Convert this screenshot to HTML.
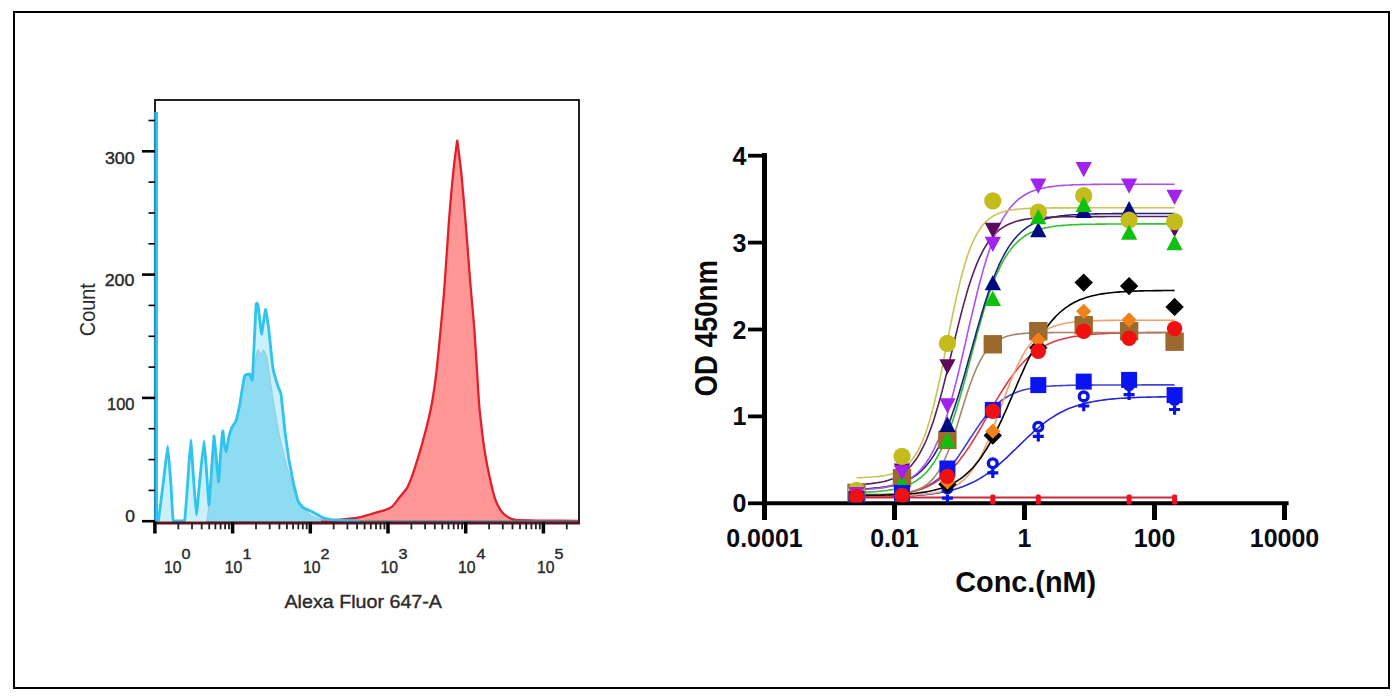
<!DOCTYPE html>
<html><head><meta charset="utf-8"><style>
html,body{margin:0;padding:0;background:#fff;width:1400px;height:698px;overflow:hidden}
svg{display:block;font-family:"Liberation Sans",sans-serif}
</style></head><body>
<svg width="1400" height="698" viewBox="0 0 1400 698">
<rect x="14" y="12" width="1375" height="676" fill="none" stroke="#000" stroke-width="2"/>
<polyline points="155,522.5 155,100 579,100 579,523" fill="none" stroke="#222" stroke-width="2"/>
<path d="M206.7 521.5 C206.9 520.4 208.7 508.4 209.0 505.0 C209.3 501.6 211.2 474.6 211.5 470.0 C211.8 465.4 213.7 436.7 214.0 436.0 C214.3 435.3 216.2 456.9 216.5 460.0 C216.8 463.1 218.4 482.3 218.7 482.0 C219.0 481.7 220.2 458.4 220.5 455.0 C220.8 451.6 222.5 431.7 222.8 431.0 C223.1 430.3 224.3 443.6 224.5 445.0 C224.7 446.4 226.0 452.2 226.3 451.6 C226.6 451.0 228.6 437.6 229.0 436.0 C229.4 434.4 231.3 428.5 231.8 427.5 C232.3 426.5 235.5 422.3 236.0 420.7 C236.5 419.1 239.4 406.0 240.0 403.0 C240.6 400.0 243.9 377.9 244.5 376.0 C245.1 374.1 249.2 373.8 249.7 374.0 C250.2 374.2 252.0 380.3 252.4 379.5 C252.8 378.7 254.6 364.0 255.0 362.0 C255.4 360.0 257.6 350.5 258.0 350.0 C258.4 349.5 260.6 355.0 261.0 355.0 C261.4 355.0 263.0 349.8 263.4 350.0 C263.8 350.2 266.4 355.1 267.0 358.0 C267.6 360.9 271.2 387.9 272.0 393.0 C272.8 398.1 278.0 428.9 279.0 434.0 C280.0 439.1 286.2 464.6 287.5 469.0 C288.8 473.4 296.2 496.9 297.8 500.0 C299.4 503.1 309.7 514.7 311.5 516.0 C313.3 517.3 323.2 519.7 325.0 520.0 C326.8 520.3 337.1 520.9 338.0 521.0 C338.9 521.1 338.0 521.9 338.0 522.0 Z" fill="#86d6ea" stroke="#98b8c4" stroke-width="1.3"/>
<path d="M322.0 520.8 C324.7 520.6 337.9 519.8 342.6 519.4 C347.3 519.0 353.8 518.4 357.6 517.7 C361.4 517.0 367.5 515.0 371.1 514.0 C374.7 513.0 381.9 511.2 384.7 510.2 C387.5 509.2 390.2 508.3 392.2 506.5 C394.2 504.7 397.7 499.5 399.7 497.0 C401.7 494.5 405.6 490.4 407.2 487.7 C408.8 485.0 410.5 480.3 411.7 477.1 C412.9 473.9 415.0 467.4 416.2 463.6 C417.4 459.8 419.6 452.8 420.8 448.6 C422.0 444.4 424.2 436.1 425.3 432.0 C426.4 427.9 427.8 422.3 428.8 418.0 C429.8 413.7 431.5 405.9 432.5 400.0 C433.5 394.1 435.1 383.3 436.2 374.0 C437.3 364.7 439.5 341.5 440.6 330.0 C441.7 318.5 443.3 301.7 444.4 287.6 C445.5 273.5 447.6 239.6 448.7 224.6 C449.8 209.6 451.9 186.3 453.0 175.0 C454.1 163.7 456.6 144.7 457.2 140.0 L457.2 140.0 C457.8 144.7 460.4 163.7 461.5 175.0 C462.6 186.3 464.7 210.7 465.8 224.6 C466.9 238.5 468.9 264.9 470.0 279.0 C471.1 293.1 473.2 313.9 474.4 330.0 C475.6 346.1 477.9 387.1 478.8 400.0 C479.7 412.9 480.7 419.7 481.5 426.9 C482.3 434.1 484.0 447.1 485.1 453.8 C486.2 460.5 488.3 471.0 489.6 477.0 C490.9 483.0 493.5 494.1 495.0 498.6 C496.5 503.1 499.4 508.6 501.2 511.1 C503.0 513.6 506.5 516.2 508.4 517.4 C510.3 518.6 511.4 519.6 515.6 520.0 C519.8 520.4 531.8 520.5 540.0 520.6 C548.2 520.7 572.1 520.8 577.0 520.8 L577 522 L322 522 Z" fill="#ff9696" stroke="#e0202a" stroke-width="2.3" stroke-linejoin="miter"/>
<path d="M158.4 521.0 C158.6 519.2 162.5 488.8 163.0 485.0 C163.5 481.2 167.3 446.0 167.7 446.0 C168.1 446.0 170.7 481.2 171.0 485.0 C171.3 488.8 172.6 519.2 173.3 521.0 C174.0 521.0 183.8 521.0 184.5 521.0 C185.2 518.9 187.7 482.1 188.0 478.0 C188.3 473.9 190.5 440.0 190.8 440.0 C191.1 440.0 193.2 474.2 193.5 478.0 C193.8 481.8 196.1 515.0 196.4 515.0 C196.7 515.0 199.6 481.7 200.0 478.0 C200.4 474.3 203.7 441.0 204.0 441.0 C204.3 441.0 206.8 474.8 207.0 478.0 C207.2 481.2 208.8 505.4 209.0 505.0 C209.2 504.6 211.2 473.4 211.5 470.0 C211.8 466.6 213.8 436.5 214.0 436.0 C214.2 435.5 216.3 457.7 216.5 460.0 C216.7 462.3 218.5 482.2 218.7 482.0 C218.9 481.8 220.3 457.6 220.5 455.0 C220.7 452.4 222.6 431.5 222.8 431.0 C223.0 430.5 224.3 444.0 224.5 445.0 C224.7 446.0 226.1 452.1 226.3 451.6 C226.5 451.2 228.7 437.2 229.0 436.0 C229.3 434.8 231.5 428.3 231.8 427.5 C232.2 426.7 235.6 421.9 236.0 420.7 C236.4 419.5 239.6 405.2 240.0 403.0 C240.4 400.8 244.0 377.4 244.5 376.0 C245.0 374.6 249.3 373.8 249.7 374.0 C250.1 374.2 252.1 382.9 252.4 379.5 C252.7 376.1 255.7 309.2 256.0 305.5 C256.3 301.8 257.7 303.6 258.0 305.0 C258.3 306.4 261.1 333.8 261.5 334.0 C261.9 334.2 265.1 309.9 265.5 309.5 C265.9 309.1 268.1 324.0 268.5 327.0 C268.9 330.0 272.5 366.0 273.0 369.0 C273.5 372.0 277.6 385.1 278.0 386.4 C278.4 387.6 280.6 391.7 281.0 394.0 C281.4 396.3 284.6 428.7 285.0 432.0 C285.4 435.3 288.6 457.6 289.0 460.0 C289.4 462.4 292.6 478.9 293.0 481.0 C293.4 483.1 297.5 499.7 298.0 501.0 C298.5 502.3 302.3 507.0 303.0 507.5 C303.7 508.0 311.1 511.2 312.0 511.7 C312.9 512.2 320.6 516.6 321.5 517.0 C322.4 517.4 329.9 519.5 331.0 519.7 C332.1 519.9 342.6 520.4 344.0 520.5 C345.4 520.6 359.2 521.0 360.0 521.0" fill="rgba(150,225,248,0.5)" stroke="#2ec4ee" stroke-width="2.8" stroke-linejoin="round"/>
<line x1="360" y1="521.2" x2="578" y2="521.2" stroke="#3a9ab0" stroke-width="1.6"/>
<line x1="154.6" y1="112" x2="154.6" y2="522" stroke="#1e88b0" stroke-width="1.4"/>
<line x1="156.6" y1="112" x2="156.6" y2="522" stroke="#30c2f0" stroke-width="2.8"/>
<line x1="154" y1="523" x2="580" y2="523" stroke="#5a1422" stroke-width="3"/>
<line x1="142" y1="521.2" x2="155" y2="521.2" stroke="#000" stroke-width="2.6"/>
<line x1="142" y1="397.9" x2="155" y2="397.9" stroke="#000" stroke-width="2.6"/>
<line x1="142" y1="274.6" x2="155" y2="274.6" stroke="#000" stroke-width="2.6"/>
<line x1="142" y1="151.3" x2="155" y2="151.3" stroke="#000" stroke-width="2.6"/>
<line x1="148.5" y1="490.4" x2="155" y2="490.4" stroke="#000" stroke-width="1.6"/>
<line x1="148.5" y1="459.6" x2="155" y2="459.6" stroke="#000" stroke-width="1.6"/>
<line x1="148.5" y1="428.7" x2="155" y2="428.7" stroke="#000" stroke-width="1.6"/>
<line x1="148.5" y1="367.1" x2="155" y2="367.1" stroke="#000" stroke-width="1.6"/>
<line x1="148.5" y1="336.3" x2="155" y2="336.3" stroke="#000" stroke-width="1.6"/>
<line x1="148.5" y1="305.4" x2="155" y2="305.4" stroke="#000" stroke-width="1.6"/>
<line x1="148.5" y1="243.8" x2="155" y2="243.8" stroke="#000" stroke-width="1.6"/>
<line x1="148.5" y1="213.0" x2="155" y2="213.0" stroke="#000" stroke-width="1.6"/>
<line x1="148.5" y1="182.1" x2="155" y2="182.1" stroke="#000" stroke-width="1.6"/>
<line x1="148.5" y1="120.5" x2="155" y2="120.5" stroke="#000" stroke-width="1.6"/>
<line x1="154.9" y1="522" x2="154.9" y2="533.5" stroke="#000" stroke-width="3.5"/>
<line x1="232.6" y1="522" x2="232.6" y2="533.5" stroke="#000" stroke-width="3.5"/>
<line x1="310.3" y1="522" x2="310.3" y2="533.5" stroke="#000" stroke-width="3.5"/>
<line x1="388.0" y1="522" x2="388.0" y2="533.5" stroke="#000" stroke-width="3.5"/>
<line x1="465.7" y1="522" x2="465.7" y2="533.5" stroke="#000" stroke-width="3.5"/>
<line x1="543.4" y1="522" x2="543.4" y2="533.5" stroke="#000" stroke-width="3.5"/>
<line x1="178.3" y1="522" x2="178.3" y2="529.3" stroke="#222" stroke-width="1.8"/>
<line x1="192.0" y1="522" x2="192.0" y2="529.3" stroke="#222" stroke-width="1.8"/>
<line x1="201.7" y1="522" x2="201.7" y2="529.3" stroke="#222" stroke-width="1.8"/>
<line x1="209.2" y1="522" x2="209.2" y2="529.3" stroke="#222" stroke-width="1.8"/>
<line x1="215.4" y1="522" x2="215.4" y2="529.3" stroke="#222" stroke-width="1.8"/>
<line x1="220.6" y1="522" x2="220.6" y2="529.3" stroke="#222" stroke-width="1.8"/>
<line x1="225.1" y1="522" x2="225.1" y2="529.3" stroke="#222" stroke-width="1.8"/>
<line x1="229.0" y1="522" x2="229.0" y2="529.3" stroke="#222" stroke-width="1.8"/>
<line x1="256.0" y1="522" x2="256.0" y2="529.3" stroke="#222" stroke-width="1.8"/>
<line x1="269.7" y1="522" x2="269.7" y2="529.3" stroke="#222" stroke-width="1.8"/>
<line x1="279.4" y1="522" x2="279.4" y2="529.3" stroke="#222" stroke-width="1.8"/>
<line x1="286.9" y1="522" x2="286.9" y2="529.3" stroke="#222" stroke-width="1.8"/>
<line x1="293.1" y1="522" x2="293.1" y2="529.3" stroke="#222" stroke-width="1.8"/>
<line x1="298.3" y1="522" x2="298.3" y2="529.3" stroke="#222" stroke-width="1.8"/>
<line x1="302.8" y1="522" x2="302.8" y2="529.3" stroke="#222" stroke-width="1.8"/>
<line x1="306.7" y1="522" x2="306.7" y2="529.3" stroke="#222" stroke-width="1.8"/>
<line x1="333.7" y1="522" x2="333.7" y2="529.3" stroke="#222" stroke-width="1.8"/>
<line x1="347.4" y1="522" x2="347.4" y2="529.3" stroke="#222" stroke-width="1.8"/>
<line x1="357.1" y1="522" x2="357.1" y2="529.3" stroke="#222" stroke-width="1.8"/>
<line x1="364.6" y1="522" x2="364.6" y2="529.3" stroke="#222" stroke-width="1.8"/>
<line x1="370.8" y1="522" x2="370.8" y2="529.3" stroke="#222" stroke-width="1.8"/>
<line x1="376.0" y1="522" x2="376.0" y2="529.3" stroke="#222" stroke-width="1.8"/>
<line x1="380.5" y1="522" x2="380.5" y2="529.3" stroke="#222" stroke-width="1.8"/>
<line x1="384.4" y1="522" x2="384.4" y2="529.3" stroke="#222" stroke-width="1.8"/>
<line x1="411.4" y1="522" x2="411.4" y2="529.3" stroke="#222" stroke-width="1.8"/>
<line x1="425.1" y1="522" x2="425.1" y2="529.3" stroke="#222" stroke-width="1.8"/>
<line x1="434.8" y1="522" x2="434.8" y2="529.3" stroke="#222" stroke-width="1.8"/>
<line x1="442.3" y1="522" x2="442.3" y2="529.3" stroke="#222" stroke-width="1.8"/>
<line x1="448.5" y1="522" x2="448.5" y2="529.3" stroke="#222" stroke-width="1.8"/>
<line x1="453.7" y1="522" x2="453.7" y2="529.3" stroke="#222" stroke-width="1.8"/>
<line x1="458.2" y1="522" x2="458.2" y2="529.3" stroke="#222" stroke-width="1.8"/>
<line x1="462.1" y1="522" x2="462.1" y2="529.3" stroke="#222" stroke-width="1.8"/>
<line x1="489.1" y1="522" x2="489.1" y2="529.3" stroke="#222" stroke-width="1.8"/>
<line x1="502.8" y1="522" x2="502.8" y2="529.3" stroke="#222" stroke-width="1.8"/>
<line x1="512.5" y1="522" x2="512.5" y2="529.3" stroke="#222" stroke-width="1.8"/>
<line x1="520.0" y1="522" x2="520.0" y2="529.3" stroke="#222" stroke-width="1.8"/>
<line x1="526.2" y1="522" x2="526.2" y2="529.3" stroke="#222" stroke-width="1.8"/>
<line x1="531.4" y1="522" x2="531.4" y2="529.3" stroke="#222" stroke-width="1.8"/>
<line x1="535.9" y1="522" x2="535.9" y2="529.3" stroke="#222" stroke-width="1.8"/>
<line x1="539.8" y1="522" x2="539.8" y2="529.3" stroke="#222" stroke-width="1.8"/>
<line x1="566.8" y1="522" x2="566.8" y2="529.3" stroke="#222" stroke-width="1.8"/>
<text x="104.9" y="163.6" font-size="16.0" font-weight="normal" fill="#2a2a2a" stroke="#2a2a2a" stroke-width="0.4" text-anchor="start" textLength="29.7" lengthAdjust="spacingAndGlyphs" >300</text>
<text x="104.7" y="285.7" font-size="16.0" font-weight="normal" fill="#2a2a2a" stroke="#2a2a2a" stroke-width="0.4" text-anchor="start" textLength="29.8" lengthAdjust="spacingAndGlyphs" >200</text>
<text x="107.0" y="410.2" font-size="16.0" font-weight="normal" fill="#2a2a2a" stroke="#2a2a2a" stroke-width="0.4" text-anchor="start" textLength="27.5" lengthAdjust="spacingAndGlyphs" >100</text>
<text x="125.2" y="521.6" font-size="16.0" font-weight="normal" fill="#2a2a2a" stroke="#2a2a2a" stroke-width="0.4" text-anchor="start" textLength="9.7" lengthAdjust="spacingAndGlyphs" >0</text>
<text transform="translate(94.8,336.2) rotate(-90)" font-size="21.5" fill="#2a2a2a" textLength="53" lengthAdjust="spacingAndGlyphs">Count</text>
<text x="164.0" y="573.0" font-size="16.6" font-weight="normal" fill="#2a2a2a" stroke="#2a2a2a" stroke-width="0.4" text-anchor="start" textLength="17.5" lengthAdjust="spacingAndGlyphs" >10</text>
<text x="181.5" y="559.0" font-size="14.6" font-weight="normal" fill="#2a2a2a" stroke="#2a2a2a" stroke-width="0.4" text-anchor="start" textLength="9.0" lengthAdjust="spacingAndGlyphs" >0</text>
<text x="224.7" y="573.0" font-size="16.6" font-weight="normal" fill="#2a2a2a" stroke="#2a2a2a" stroke-width="0.4" text-anchor="start" textLength="17.5" lengthAdjust="spacingAndGlyphs" >10</text>
<text x="242.5" y="559.0" font-size="14.6" font-weight="normal" fill="#2a2a2a" stroke="#2a2a2a" stroke-width="0.4" text-anchor="start" textLength="9.0" lengthAdjust="spacingAndGlyphs" >1</text>
<text x="303.0" y="573.0" font-size="16.6" font-weight="normal" fill="#2a2a2a" stroke="#2a2a2a" stroke-width="0.4" text-anchor="start" textLength="17.5" lengthAdjust="spacingAndGlyphs" >10</text>
<text x="320.5" y="559.0" font-size="14.6" font-weight="normal" fill="#2a2a2a" stroke="#2a2a2a" stroke-width="0.4" text-anchor="start" textLength="9.0" lengthAdjust="spacingAndGlyphs" >2</text>
<text x="380.5" y="573.0" font-size="16.6" font-weight="normal" fill="#2a2a2a" stroke="#2a2a2a" stroke-width="0.4" text-anchor="start" textLength="17.5" lengthAdjust="spacingAndGlyphs" >10</text>
<text x="398.5" y="559.0" font-size="14.6" font-weight="normal" fill="#2a2a2a" stroke="#2a2a2a" stroke-width="0.4" text-anchor="start" textLength="9.0" lengthAdjust="spacingAndGlyphs" >3</text>
<text x="458.0" y="573.0" font-size="16.6" font-weight="normal" fill="#2a2a2a" stroke="#2a2a2a" stroke-width="0.4" text-anchor="start" textLength="17.5" lengthAdjust="spacingAndGlyphs" >10</text>
<text x="476.5" y="559.0" font-size="14.6" font-weight="normal" fill="#2a2a2a" stroke="#2a2a2a" stroke-width="0.4" text-anchor="start" textLength="9.0" lengthAdjust="spacingAndGlyphs" >4</text>
<text x="537.0" y="573.0" font-size="16.6" font-weight="normal" fill="#2a2a2a" stroke="#2a2a2a" stroke-width="0.4" text-anchor="start" textLength="17.5" lengthAdjust="spacingAndGlyphs" >10</text>
<text x="554.5" y="559.0" font-size="14.6" font-weight="normal" fill="#2a2a2a" stroke="#2a2a2a" stroke-width="0.4" text-anchor="start" textLength="9.0" lengthAdjust="spacingAndGlyphs" >5</text>
<text x="284.5" y="608.2" font-size="18.8" font-weight="normal" fill="#2a2a2a" stroke="#2a2a2a" stroke-width="0.4" text-anchor="start" textLength="157.5" lengthAdjust="spacingAndGlyphs" >Alexa Fluor 647-A</text>
<line x1="764.5" y1="153" x2="764.5" y2="520" stroke="#000" stroke-width="5"/>
<line x1="762" y1="503.3" x2="1288.6" y2="503.3" stroke="#000" stroke-width="4"/>
<line x1="748" y1="503.3" x2="764" y2="503.3" stroke="#000" stroke-width="3.8"/>
<line x1="748" y1="416.4" x2="764" y2="416.4" stroke="#000" stroke-width="3.8"/>
<line x1="748" y1="329.5" x2="764" y2="329.5" stroke="#000" stroke-width="3.8"/>
<line x1="748" y1="242.6" x2="764" y2="242.6" stroke="#000" stroke-width="3.8"/>
<line x1="748" y1="155.7" x2="764" y2="155.7" stroke="#000" stroke-width="3.8"/>
<line x1="764.5" y1="503" x2="764.5" y2="520" stroke="#000" stroke-width="5"/>
<line x1="894.5" y1="503" x2="894.5" y2="520" stroke="#000" stroke-width="5"/>
<line x1="1024.5" y1="503" x2="1024.5" y2="520" stroke="#000" stroke-width="5"/>
<line x1="1154.5" y1="503" x2="1154.5" y2="520" stroke="#000" stroke-width="5"/>
<line x1="1284.5" y1="503" x2="1284.5" y2="520" stroke="#000" stroke-width="5"/>
<polyline points="856.5,497.1 858.8,497.1 861.1,497.1 863.4,497.1 865.6,497.0 867.9,497.0 870.2,497.0 872.4,497.0 874.7,496.9 877.0,496.9 879.3,496.8 881.5,496.8 883.8,496.8 886.1,496.7 888.3,496.7 890.6,496.6 892.9,496.5 895.2,496.5 897.4,496.4 899.7,496.3 902.0,496.2 904.2,496.1 906.5,496.0 908.8,495.9 911.1,495.7 913.3,495.6 915.6,495.4 917.9,495.3 920.1,495.1 922.4,494.9 924.7,494.7 927.0,494.4 929.2,494.2 931.5,493.9 933.8,493.6 936.0,493.3 938.3,492.9 940.6,492.5 942.9,492.1 945.1,491.7 947.4,491.2 949.7,490.6 951.9,490.1 954.2,489.4 956.5,488.8 958.8,488.1 961.0,487.3 963.3,486.5 965.6,485.6 967.8,484.6 970.1,483.6 972.4,482.5 974.7,481.4 976.9,480.2 979.2,478.9 981.5,477.5 983.7,476.1 986.0,474.6 988.3,473.0 990.6,471.3 992.8,469.6 995.1,467.7 997.4,465.9 999.6,463.9 1001.9,461.9 1004.2,459.9 1006.5,457.8 1008.7,455.6 1011.0,453.4 1013.3,451.2 1015.6,449.0 1017.8,446.8 1020.1,444.6 1022.4,442.4 1024.6,440.2 1026.9,438.0 1029.2,435.8 1031.5,433.8 1033.7,431.7 1036.0,429.7 1038.3,427.8 1040.5,425.9 1042.8,424.1 1045.1,422.4 1047.4,420.7 1049.6,419.1 1051.9,417.6 1054.2,416.2 1056.4,414.8 1058.7,413.5 1061.0,412.3 1063.3,411.2 1065.5,410.1 1067.8,409.1 1070.1,408.1 1072.3,407.3 1074.6,406.4 1076.9,405.7 1079.2,405.0 1081.4,404.3 1083.7,403.7 1086.0,403.1 1088.2,402.6 1090.5,402.1 1092.8,401.7 1095.1,401.2 1097.3,400.9 1099.6,400.5 1101.9,400.2 1104.1,399.9 1106.4,399.6 1108.7,399.3 1111.0,399.1 1113.2,398.9 1115.5,398.7 1117.8,398.5 1120.0,398.3 1122.3,398.2 1124.6,398.1 1126.9,397.9 1129.1,397.8 1131.4,397.7 1133.7,397.6 1135.9,397.5 1138.2,397.4 1140.5,397.3 1142.8,397.3 1145.0,397.2 1147.3,397.1 1149.6,397.1 1151.9,397.0 1154.1,397.0 1156.4,397.0 1158.7,396.9 1160.9,396.9 1163.2,396.9 1165.5,396.8 1167.8,396.8 1170.0,396.8 1172.3,396.7 1174.6,396.7" fill="none" stroke="#2828d0" stroke-width="1.6"/>
<polyline points="856.5,495.9 858.8,495.8 861.1,495.8 863.4,495.8 865.6,495.7 867.9,495.7 870.2,495.6 872.4,495.6 874.7,495.5 877.0,495.4 879.3,495.3 881.5,495.2 883.8,495.1 886.1,495.0 888.3,494.8 890.6,494.7 892.9,494.5 895.2,494.3 897.4,494.0 899.7,493.7 902.0,493.4 904.2,493.1 906.5,492.7 908.8,492.3 911.1,491.8 913.3,491.2 915.6,490.6 917.9,489.9 920.1,489.1 922.4,488.2 924.7,487.3 927.0,486.2 929.2,485.0 931.5,483.7 933.8,482.2 936.0,480.6 938.3,478.9 940.6,476.9 942.9,474.9 945.1,472.6 947.4,470.2 949.7,467.6 951.9,464.8 954.2,461.9 956.5,458.9 958.8,455.7 961.0,452.4 963.3,449.0 965.6,445.5 967.8,442.0 970.1,438.5 972.4,435.1 974.7,431.6 976.9,428.2 979.2,424.9 981.5,421.8 983.7,418.7 986.0,415.8 988.3,413.1 990.6,410.5 992.8,408.1 995.1,405.9 997.4,403.8 999.6,401.9 1001.9,400.2 1004.2,398.6 1006.5,397.2 1008.7,395.9 1011.0,394.7 1013.3,393.6 1015.6,392.7 1017.8,391.8 1020.1,391.0 1022.4,390.3 1024.6,389.7 1026.9,389.2 1029.2,388.7 1031.5,388.3 1033.7,387.9 1036.0,387.5 1038.3,387.2 1040.5,387.0 1042.8,386.7 1045.1,386.5 1047.4,386.3 1049.6,386.2 1051.9,386.0 1054.2,385.9 1056.4,385.8 1058.7,385.7 1061.0,385.6 1063.3,385.5 1065.5,385.5 1067.8,385.4 1070.1,385.3 1072.3,385.3 1074.6,385.3 1076.9,385.2 1079.2,385.2 1081.4,385.2 1083.7,385.1 1086.0,385.1 1088.2,385.1 1090.5,385.1 1092.8,385.1 1095.1,385.0 1097.3,385.0 1099.6,385.0 1101.9,385.0 1104.1,385.0 1106.4,385.0 1108.7,385.0 1111.0,385.0 1113.2,385.0 1115.5,385.0 1117.8,385.0 1120.0,385.0 1122.3,385.0 1124.6,385.0 1126.9,385.0 1129.1,385.0 1131.4,385.0 1133.7,385.0 1135.9,385.0 1138.2,385.0 1140.5,385.0 1142.8,384.9 1145.0,384.9 1147.3,384.9 1149.6,384.9 1151.9,384.9 1154.1,384.9 1156.4,384.9 1158.7,384.9 1160.9,384.9 1163.2,384.9 1165.5,384.9 1167.8,384.9 1170.0,384.9 1172.3,384.9 1174.6,384.9" fill="none" stroke="#4040e0" stroke-width="1.6"/>
<polyline points="856.5,497.6 858.8,497.5 861.1,497.4 863.4,497.4 865.6,497.3 867.9,497.2 870.2,497.1 872.4,497.0 874.7,496.9 877.0,496.7 879.3,496.6 881.5,496.4 883.8,496.3 886.1,496.1 888.3,495.9 890.6,495.6 892.9,495.4 895.2,495.1 897.4,494.8 899.7,494.5 902.0,494.1 904.2,493.7 906.5,493.2 908.8,492.7 911.1,492.2 913.3,491.6 915.6,491.0 917.9,490.3 920.1,489.5 922.4,488.7 924.7,487.8 927.0,486.8 929.2,485.7 931.5,484.6 933.8,483.3 936.0,481.9 938.3,480.4 940.6,478.8 942.9,477.1 945.1,475.3 947.4,473.3 949.7,471.1 951.9,468.9 954.2,466.4 956.5,463.9 958.8,461.2 961.0,458.3 963.3,455.3 965.6,452.1 967.8,448.8 970.1,445.4 972.4,441.8 974.7,438.2 976.9,434.4 979.2,430.5 981.5,426.6 983.7,422.6 986.0,418.6 988.3,414.6 990.6,410.6 992.8,406.6 995.1,402.6 997.4,398.7 999.6,394.9 1001.9,391.2 1004.2,387.5 1006.5,384.0 1008.7,380.6 1011.0,377.4 1013.3,374.3 1015.6,371.3 1017.8,368.5 1020.1,365.8 1022.4,363.3 1024.6,360.9 1026.9,358.7 1029.2,356.6 1031.5,354.7 1033.7,352.9 1036.0,351.2 1038.3,349.7 1040.5,348.2 1042.8,346.9 1045.1,345.6 1047.4,344.5 1049.6,343.5 1051.9,342.5 1054.2,341.6 1056.4,340.8 1058.7,340.1 1061.0,339.4 1063.3,338.8 1065.5,338.2 1067.8,337.7 1070.1,337.2 1072.3,336.8 1074.6,336.4 1076.9,336.1 1079.2,335.7 1081.4,335.4 1083.7,335.2 1086.0,334.9 1088.2,334.7 1090.5,334.5 1092.8,334.3 1095.1,334.1 1097.3,334.0 1099.6,333.8 1101.9,333.7 1104.1,333.6 1106.4,333.5 1108.7,333.4 1111.0,333.3 1113.2,333.2 1115.5,333.2 1117.8,333.1 1120.0,333.0 1122.3,333.0 1124.6,332.9 1126.9,332.9 1129.1,332.8 1131.4,332.8 1133.7,332.8 1135.9,332.7 1138.2,332.7 1140.5,332.7 1142.8,332.7 1145.0,332.7 1147.3,332.6 1149.6,332.6 1151.9,332.6 1154.1,332.6 1156.4,332.6 1158.7,332.6 1160.9,332.6 1163.2,332.5 1165.5,332.5 1167.8,332.5 1170.0,332.5 1172.3,332.5 1174.6,332.5" fill="none" stroke="#e03848" stroke-width="1.6"/>
<polyline points="856.5,494.5 858.8,494.5 861.1,494.5 863.4,494.5 865.6,494.4 867.9,494.4 870.2,494.4 872.4,494.4 874.7,494.4 877.0,494.3 879.3,494.3 881.5,494.2 883.8,494.2 886.1,494.1 888.3,494.0 890.6,493.9 892.9,493.8 895.2,493.7 897.4,493.5 899.7,493.3 902.0,493.1 904.2,492.8 906.5,492.5 908.8,492.1 911.1,491.6 913.3,491.0 915.6,490.3 917.9,489.5 920.1,488.5 922.4,487.4 924.7,486.0 927.0,484.4 929.2,482.6 931.5,480.4 933.8,477.9 936.0,474.9 938.3,471.6 940.6,467.7 942.9,463.4 945.1,458.6 947.4,453.2 949.7,447.4 951.9,441.1 954.2,434.3 956.5,427.3 958.8,420.0 961.0,412.7 963.3,405.3 965.6,398.1 967.8,391.1 970.1,384.5 972.4,378.3 974.7,372.5 976.9,367.3 979.2,362.6 981.5,358.3 983.7,354.6 986.0,351.4 988.3,348.5 990.6,346.1 992.8,344.0 995.1,342.2 997.4,340.6 999.6,339.3 1001.9,338.2 1004.2,337.3 1006.5,336.5 1008.7,335.8 1011.0,335.3 1013.3,334.8 1015.6,334.4 1017.8,334.1 1020.1,333.8 1022.4,333.6 1024.6,333.4 1026.9,333.3 1029.2,333.1 1031.5,333.0 1033.7,332.9 1036.0,332.8 1038.3,332.8 1040.5,332.7 1042.8,332.7 1045.1,332.6 1047.4,332.6 1049.6,332.6 1051.9,332.6 1054.2,332.5 1056.4,332.5 1058.7,332.5 1061.0,332.5 1063.3,332.5 1065.5,332.5 1067.8,332.5 1070.1,332.5 1072.3,332.5 1074.6,332.5 1076.9,332.5 1079.2,332.5 1081.4,332.5 1083.7,332.5 1086.0,332.5 1088.2,332.5 1090.5,332.5 1092.8,332.5 1095.1,332.5 1097.3,332.5 1099.6,332.5 1101.9,332.5 1104.1,332.5 1106.4,332.5 1108.7,332.5 1111.0,332.5 1113.2,332.5 1115.5,332.5 1117.8,332.5 1120.0,332.5 1122.3,332.5 1124.6,332.5 1126.9,332.5 1129.1,332.5 1131.4,332.5 1133.7,332.5 1135.9,332.5 1138.2,332.5 1140.5,332.5 1142.8,332.5 1145.0,332.5 1147.3,332.5 1149.6,332.5 1151.9,332.5 1154.1,332.5 1156.4,332.5 1158.7,332.5 1160.9,332.5 1163.2,332.5 1165.5,332.5 1167.8,332.5 1170.0,332.5 1172.3,332.5 1174.6,332.5" fill="none" stroke="#a08868" stroke-width="1.6"/>
<polyline points="856.5,495.7 858.8,495.7 861.1,495.7 863.4,495.7 865.6,495.7 867.9,495.7 870.2,495.7 872.4,495.7 874.7,495.7 877.0,495.7 879.3,495.6 881.5,495.6 883.8,495.6 886.1,495.6 888.3,495.6 890.6,495.6 892.9,495.5 895.2,495.5 897.4,495.5 899.7,495.4 902.0,495.4 904.2,495.3 906.5,495.2 908.8,495.2 911.1,495.1 913.3,495.0 915.6,494.9 917.9,494.7 920.1,494.6 922.4,494.4 924.7,494.2 927.0,494.0 929.2,493.7 931.5,493.4 933.8,493.1 936.0,492.7 938.3,492.2 940.6,491.7 942.9,491.1 945.1,490.4 947.4,489.6 949.7,488.7 951.9,487.7 954.2,486.5 956.5,485.2 958.8,483.7 961.0,482.0 963.3,480.1 965.6,478.0 967.8,475.6 970.1,472.9 972.4,469.9 974.7,466.6 976.9,463.0 979.2,459.1 981.5,454.8 983.7,450.2 986.0,445.3 988.3,440.0 990.6,434.5 992.8,428.7 995.1,422.8 997.4,416.7 999.6,410.5 1001.9,404.2 1004.2,398.1 1006.5,392.0 1008.7,386.1 1011.0,380.3 1013.3,374.9 1015.6,369.7 1017.8,364.8 1020.1,360.3 1022.4,356.0 1024.6,352.2 1026.9,348.6 1029.2,345.4 1031.5,342.5 1033.7,339.9 1036.0,337.5 1038.3,335.5 1040.5,333.6 1042.8,331.9 1045.1,330.5 1047.4,329.2 1049.6,328.1 1051.9,327.1 1054.2,326.2 1056.4,325.4 1058.7,324.7 1061.0,324.2 1063.3,323.6 1065.5,323.2 1067.8,322.8 1070.1,322.5 1072.3,322.2 1074.6,321.9 1076.9,321.7 1079.2,321.5 1081.4,321.3 1083.7,321.2 1086.0,321.0 1088.2,320.9 1090.5,320.8 1092.8,320.8 1095.1,320.7 1097.3,320.6 1099.6,320.6 1101.9,320.5 1104.1,320.5 1106.4,320.4 1108.7,320.4 1111.0,320.4 1113.2,320.4 1115.5,320.3 1117.8,320.3 1120.0,320.3 1122.3,320.3 1124.6,320.3 1126.9,320.3 1129.1,320.3 1131.4,320.3 1133.7,320.2 1135.9,320.2 1138.2,320.2 1140.5,320.2 1142.8,320.2 1145.0,320.2 1147.3,320.2 1149.6,320.2 1151.9,320.2 1154.1,320.2 1156.4,320.2 1158.7,320.2 1160.9,320.2 1163.2,320.2 1165.5,320.2 1167.8,320.2 1170.0,320.2 1172.3,320.2 1174.6,320.2" fill="none" stroke="#f0a070" stroke-width="1.6"/>
<polyline points="856.5,495.5 858.8,495.5 861.1,495.5 863.4,495.4 865.6,495.4 867.9,495.4 870.2,495.3 872.4,495.3 874.7,495.3 877.0,495.2 879.3,495.2 881.5,495.1 883.8,495.1 886.1,495.0 888.3,495.0 890.6,494.9 892.9,494.8 895.2,494.7 897.4,494.6 899.7,494.5 902.0,494.4 904.2,494.2 906.5,494.1 908.8,493.9 911.1,493.7 913.3,493.5 915.6,493.3 917.9,493.0 920.1,492.7 922.4,492.4 924.7,492.1 927.0,491.7 929.2,491.3 931.5,490.8 933.8,490.3 936.0,489.7 938.3,489.1 940.6,488.4 942.9,487.7 945.1,486.9 947.4,485.9 949.7,484.9 951.9,483.8 954.2,482.6 956.5,481.3 958.8,479.9 961.0,478.3 963.3,476.6 965.6,474.7 967.8,472.7 970.1,470.5 972.4,468.2 974.7,465.6 976.9,462.8 979.2,459.9 981.5,456.7 983.7,453.4 986.0,449.8 988.3,446.0 990.6,442.0 992.8,437.8 995.1,433.5 997.4,428.9 999.6,424.1 1001.9,419.3 1004.2,414.2 1006.5,409.1 1008.7,403.9 1011.0,398.6 1013.3,393.3 1015.6,388.0 1017.8,382.8 1020.1,377.5 1022.4,372.4 1024.6,367.4 1026.9,362.5 1029.2,357.7 1031.5,353.1 1033.7,348.7 1036.0,344.5 1038.3,340.5 1040.5,336.6 1042.8,333.0 1045.1,329.6 1047.4,326.5 1049.6,323.5 1051.9,320.7 1054.2,318.1 1056.4,315.7 1058.7,313.5 1061.0,311.5 1063.3,309.6 1065.5,307.9 1067.8,306.3 1070.1,304.8 1072.3,303.5 1074.6,302.3 1076.9,301.2 1079.2,300.1 1081.4,299.2 1083.7,298.4 1086.0,297.6 1088.2,296.9 1090.5,296.3 1092.8,295.7 1095.1,295.2 1097.3,294.7 1099.6,294.3 1101.9,293.9 1104.1,293.6 1106.4,293.3 1108.7,293.0 1111.0,292.7 1113.2,292.5 1115.5,292.3 1117.8,292.1 1120.0,291.9 1122.3,291.7 1124.6,291.6 1126.9,291.5 1129.1,291.4 1131.4,291.3 1133.7,291.2 1135.9,291.1 1138.2,291.0 1140.5,290.9 1142.8,290.9 1145.0,290.8 1147.3,290.8 1149.6,290.7 1151.9,290.7 1154.1,290.6 1156.4,290.6 1158.7,290.6 1160.9,290.6 1163.2,290.5 1165.5,290.5 1167.8,290.5 1170.0,290.5 1172.3,290.5 1174.6,290.4" fill="none" stroke="#000000" stroke-width="1.6"/>
<polyline points="856.5,492.4 858.8,492.4 861.1,492.3 863.4,492.2 865.6,492.1 867.9,492.0 870.2,491.9 872.4,491.8 874.7,491.7 877.0,491.5 879.3,491.3 881.5,491.1 883.8,490.8 886.1,490.6 888.3,490.3 890.6,489.9 892.9,489.5 895.2,489.1 897.4,488.6 899.7,488.0 902.0,487.3 904.2,486.6 906.5,485.8 908.8,484.8 911.1,483.7 913.3,482.6 915.6,481.2 917.9,479.7 920.1,478.0 922.4,476.1 924.7,474.0 927.0,471.6 929.2,469.0 931.5,466.0 933.8,462.8 936.0,459.2 938.3,455.2 940.6,450.9 942.9,446.2 945.1,441.0 947.4,435.5 949.7,429.5 951.9,423.1 954.2,416.3 956.5,409.1 958.8,401.6 961.0,393.7 963.3,385.6 965.6,377.3 967.8,368.8 970.1,360.2 972.4,351.6 974.7,343.1 976.9,334.7 979.2,326.5 981.5,318.5 983.7,310.8 986.0,303.5 988.3,296.5 990.6,289.9 992.8,283.8 995.1,278.0 997.4,272.7 999.6,267.8 1001.9,263.3 1004.2,259.2 1006.5,255.5 1008.7,252.1 1011.0,249.0 1013.3,246.3 1015.6,243.8 1017.8,241.6 1020.1,239.6 1022.4,237.8 1024.6,236.2 1026.9,234.8 1029.2,233.5 1031.5,232.4 1033.7,231.4 1036.0,230.5 1038.3,229.8 1040.5,229.1 1042.8,228.5 1045.1,227.9 1047.4,227.5 1049.6,227.0 1051.9,226.7 1054.2,226.3 1056.4,226.0 1058.7,225.8 1061.0,225.6 1063.3,225.4 1065.5,225.2 1067.8,225.0 1070.1,224.9 1072.3,224.8 1074.6,224.7 1076.9,224.6 1079.2,224.5 1081.4,224.4 1083.7,224.4 1086.0,224.3 1088.2,224.3 1090.5,224.2 1092.8,224.2 1095.1,224.2 1097.3,224.1 1099.6,224.1 1101.9,224.1 1104.1,224.1 1106.4,224.0 1108.7,224.0 1111.0,224.0 1113.2,224.0 1115.5,224.0 1117.8,224.0 1120.0,224.0 1122.3,224.0 1124.6,224.0 1126.9,224.0 1129.1,224.0 1131.4,223.9 1133.7,223.9 1135.9,223.9 1138.2,223.9 1140.5,223.9 1142.8,223.9 1145.0,223.9 1147.3,223.9 1149.6,223.9 1151.9,223.9 1154.1,223.9 1156.4,223.9 1158.7,223.9 1160.9,223.9 1163.2,223.9 1165.5,223.9 1167.8,223.9 1170.0,223.9 1172.3,223.9 1174.6,223.9" fill="none" stroke="#30c030" stroke-width="1.6"/>
<polyline points="856.5,489.2 858.8,489.1 861.1,489.0 863.4,488.9 865.6,488.8 867.9,488.7 870.2,488.5 872.4,488.3 874.7,488.1 877.0,487.9 879.3,487.7 881.5,487.4 883.8,487.1 886.1,486.7 888.3,486.3 890.6,485.9 892.9,485.4 895.2,484.8 897.4,484.2 899.7,483.5 902.0,482.7 904.2,481.8 906.5,480.8 908.8,479.7 911.1,478.4 913.3,477.0 915.6,475.5 917.9,473.8 920.1,471.9 922.4,469.8 924.7,467.4 927.0,464.8 929.2,462.0 931.5,458.9 933.8,455.4 936.0,451.7 938.3,447.6 940.6,443.1 942.9,438.3 945.1,433.1 947.4,427.5 949.7,421.6 951.9,415.3 954.2,408.6 956.5,401.6 958.8,394.3 961.0,386.7 963.3,378.9 965.6,370.9 967.8,362.8 970.1,354.6 972.4,346.4 974.7,338.2 976.9,330.1 979.2,322.1 981.5,314.4 983.7,306.9 986.0,299.7 988.3,292.8 990.6,286.2 992.8,280.0 995.1,274.2 997.4,268.7 999.6,263.7 1001.9,259.0 1004.2,254.6 1006.5,250.6 1008.7,246.9 1011.0,243.6 1013.3,240.5 1015.6,237.8 1017.8,235.3 1020.1,233.0 1022.4,230.9 1024.6,229.1 1026.9,227.4 1029.2,225.9 1031.5,224.6 1033.7,223.4 1036.0,222.3 1038.3,221.4 1040.5,220.5 1042.8,219.7 1045.1,219.0 1047.4,218.4 1049.6,217.9 1051.9,217.4 1054.2,217.0 1056.4,216.6 1058.7,216.2 1061.0,215.9 1063.3,215.7 1065.5,215.4 1067.8,215.2 1070.1,215.0 1072.3,214.8 1074.6,214.7 1076.9,214.6 1079.2,214.4 1081.4,214.3 1083.7,214.2 1086.0,214.2 1088.2,214.1 1090.5,214.0 1092.8,214.0 1095.1,213.9 1097.3,213.9 1099.6,213.8 1101.9,213.8 1104.1,213.7 1106.4,213.7 1108.7,213.7 1111.0,213.7 1113.2,213.6 1115.5,213.6 1117.8,213.6 1120.0,213.6 1122.3,213.6 1124.6,213.6 1126.9,213.6 1129.1,213.6 1131.4,213.5 1133.7,213.5 1135.9,213.5 1138.2,213.5 1140.5,213.5 1142.8,213.5 1145.0,213.5 1147.3,213.5 1149.6,213.5 1151.9,213.5 1154.1,213.5 1156.4,213.5 1158.7,213.5 1160.9,213.5 1163.2,213.5 1165.5,213.5 1167.8,213.5 1170.0,213.5 1172.3,213.5 1174.6,213.5" fill="none" stroke="#202080" stroke-width="1.6"/>
<polyline points="856.5,484.6 858.8,484.5 861.1,484.4 863.4,484.2 865.6,484.1 867.9,483.9 870.2,483.7 872.4,483.4 874.7,483.1 877.0,482.8 879.3,482.4 881.5,482.0 883.8,481.5 886.1,480.9 888.3,480.3 890.6,479.5 892.9,478.7 895.2,477.7 897.4,476.6 899.7,475.3 902.0,473.8 904.2,472.2 906.5,470.3 908.8,468.2 911.1,465.8 913.3,463.1 915.6,460.0 917.9,456.6 920.1,452.7 922.4,448.5 924.7,443.7 927.0,438.5 929.2,432.8 931.5,426.6 933.8,419.9 936.0,412.6 938.3,404.9 940.6,396.7 942.9,388.1 945.1,379.2 947.4,370.0 949.7,360.6 951.9,351.2 954.2,341.7 956.5,332.3 958.8,323.1 961.0,314.2 963.3,305.6 965.6,297.4 967.8,289.6 970.1,282.3 972.4,275.6 974.7,269.3 976.9,263.6 979.2,258.4 981.5,253.6 983.7,249.3 986.0,245.5 988.3,242.0 990.6,238.9 992.8,236.2 995.1,233.8 997.4,231.6 999.6,229.7 1001.9,228.1 1004.2,226.6 1006.5,225.3 1008.7,224.2 1011.0,223.2 1013.3,222.4 1015.6,221.6 1017.8,220.9 1020.1,220.4 1022.4,219.9 1024.6,219.4 1026.9,219.1 1029.2,218.7 1031.5,218.4 1033.7,218.2 1036.0,218.0 1038.3,217.8 1040.5,217.6 1042.8,217.5 1045.1,217.4 1047.4,217.2 1049.6,217.2 1051.9,217.1 1054.2,217.0 1056.4,216.9 1058.7,216.9 1061.0,216.8 1063.3,216.8 1065.5,216.8 1067.8,216.7 1070.1,216.7 1072.3,216.7 1074.6,216.7 1076.9,216.6 1079.2,216.6 1081.4,216.6 1083.7,216.6 1086.0,216.6 1088.2,216.6 1090.5,216.6 1092.8,216.6 1095.1,216.6 1097.3,216.6 1099.6,216.6 1101.9,216.6 1104.1,216.6 1106.4,216.5 1108.7,216.5 1111.0,216.5 1113.2,216.5 1115.5,216.5 1117.8,216.5 1120.0,216.5 1122.3,216.5 1124.6,216.5 1126.9,216.5 1129.1,216.5 1131.4,216.5 1133.7,216.5 1135.9,216.5 1138.2,216.5 1140.5,216.5 1142.8,216.5 1145.0,216.5 1147.3,216.5 1149.6,216.5 1151.9,216.5 1154.1,216.5 1156.4,216.5 1158.7,216.5 1160.9,216.5 1163.2,216.5 1165.5,216.5 1167.8,216.5 1170.0,216.5 1172.3,216.5 1174.6,216.5" fill="none" stroke="#5a205a" stroke-width="1.6"/>
<polyline points="856.5,489.7 858.8,489.6 861.1,489.5 863.4,489.4 865.6,489.3 867.9,489.2 870.2,489.0 872.4,488.9 874.7,488.7 877.0,488.4 879.3,488.2 881.5,487.9 883.8,487.6 886.1,487.2 888.3,486.8 890.6,486.3 892.9,485.8 895.2,485.2 897.4,484.5 899.7,483.7 902.0,482.8 904.2,481.8 906.5,480.7 908.8,479.4 911.1,478.0 913.3,476.4 915.6,474.5 917.9,472.5 920.1,470.2 922.4,467.6 924.7,464.7 927.0,461.5 929.2,458.0 931.5,454.1 933.8,449.7 936.0,444.9 938.3,439.7 940.6,434.0 942.9,427.8 945.1,421.1 947.4,413.9 949.7,406.2 951.9,398.1 954.2,389.5 956.5,380.6 958.8,371.3 961.0,361.8 963.3,352.0 965.6,342.1 967.8,332.2 970.1,322.3 972.4,312.6 974.7,303.0 976.9,293.8 979.2,284.8 981.5,276.3 983.7,268.1 986.0,260.5 988.3,253.3 990.6,246.6 992.8,240.4 995.1,234.7 997.4,229.5 999.6,224.7 1001.9,220.4 1004.2,216.4 1006.5,212.9 1008.7,209.7 1011.0,206.8 1013.3,204.2 1015.6,201.9 1017.8,199.9 1020.1,198.1 1022.4,196.5 1024.6,195.0 1026.9,193.7 1029.2,192.6 1031.5,191.6 1033.7,190.7 1036.0,190.0 1038.3,189.3 1040.5,188.7 1042.8,188.1 1045.1,187.7 1047.4,187.2 1049.6,186.9 1051.9,186.6 1054.2,186.3 1056.4,186.0 1058.7,185.8 1061.0,185.6 1063.3,185.4 1065.5,185.3 1067.8,185.2 1070.1,185.0 1072.3,184.9 1074.6,184.8 1076.9,184.8 1079.2,184.7 1081.4,184.6 1083.7,184.6 1086.0,184.5 1088.2,184.5 1090.5,184.5 1092.8,184.4 1095.1,184.4 1097.3,184.4 1099.6,184.4 1101.9,184.3 1104.1,184.3 1106.4,184.3 1108.7,184.3 1111.0,184.3 1113.2,184.3 1115.5,184.3 1117.8,184.3 1120.0,184.3 1122.3,184.2 1124.6,184.2 1126.9,184.2 1129.1,184.2 1131.4,184.2 1133.7,184.2 1135.9,184.2 1138.2,184.2 1140.5,184.2 1142.8,184.2 1145.0,184.2 1147.3,184.2 1149.6,184.2 1151.9,184.2 1154.1,184.2 1156.4,184.2 1158.7,184.2 1160.9,184.2 1163.2,184.2 1165.5,184.2 1167.8,184.2 1170.0,184.2 1172.3,184.2 1174.6,184.2" fill="none" stroke="#b050f0" stroke-width="1.6"/>
<polyline points="856.5,477.7 858.8,477.7 861.1,477.6 863.4,477.5 865.6,477.4 867.9,477.3 870.2,477.2 872.4,477.0 874.7,476.8 877.0,476.6 879.3,476.4 881.5,476.1 883.8,475.7 886.1,475.3 888.3,474.8 890.6,474.2 892.9,473.5 895.2,472.6 897.4,471.7 899.7,470.5 902.0,469.2 904.2,467.6 906.5,465.7 908.8,463.6 911.1,461.0 913.3,458.1 915.6,454.7 917.9,450.9 920.1,446.4 922.4,441.3 924.7,435.6 927.0,429.1 929.2,421.9 931.5,413.9 933.8,405.2 936.0,395.8 938.3,385.8 940.6,375.1 942.9,364.1 945.1,352.7 947.4,341.2 949.7,329.7 951.9,318.5 954.2,307.5 956.5,297.0 958.8,287.2 961.0,278.0 963.3,269.5 965.6,261.7 967.8,254.8 970.1,248.5 972.4,243.0 974.7,238.1 976.9,233.8 979.2,230.1 981.5,226.8 983.7,224.0 986.0,221.6 988.3,219.5 990.6,217.8 992.8,216.3 995.1,215.0 997.4,213.9 999.6,213.0 1001.9,212.2 1004.2,211.5 1006.5,210.9 1008.7,210.5 1011.0,210.0 1013.3,209.7 1015.6,209.4 1017.8,209.2 1020.1,209.0 1022.4,208.8 1024.6,208.6 1026.9,208.5 1029.2,208.4 1031.5,208.3 1033.7,208.2 1036.0,208.2 1038.3,208.1 1040.5,208.1 1042.8,208.0 1045.1,208.0 1047.4,208.0 1049.6,208.0 1051.9,207.9 1054.2,207.9 1056.4,207.9 1058.7,207.9 1061.0,207.9 1063.3,207.9 1065.5,207.9 1067.8,207.9 1070.1,207.9 1072.3,207.9 1074.6,207.9 1076.9,207.9 1079.2,207.9 1081.4,207.9 1083.7,207.8 1086.0,207.8 1088.2,207.8 1090.5,207.8 1092.8,207.8 1095.1,207.8 1097.3,207.8 1099.6,207.8 1101.9,207.8 1104.1,207.8 1106.4,207.8 1108.7,207.8 1111.0,207.8 1113.2,207.8 1115.5,207.8 1117.8,207.8 1120.0,207.8 1122.3,207.8 1124.6,207.8 1126.9,207.8 1129.1,207.8 1131.4,207.8 1133.7,207.8 1135.9,207.8 1138.2,207.8 1140.5,207.8 1142.8,207.8 1145.0,207.8 1147.3,207.8 1149.6,207.8 1151.9,207.8 1154.1,207.8 1156.4,207.8 1158.7,207.8 1160.9,207.8 1163.2,207.8 1165.5,207.8 1167.8,207.8 1170.0,207.8 1172.3,207.8 1174.6,207.8" fill="none" stroke="#c8c458" stroke-width="1.6"/>
<line x1="856" y1="497.5" x2="1175" y2="497.5" stroke="#c82838" stroke-width="2"/>
<clipPath id="pc"><rect x="767" y="100" width="530" height="402.5"/></clipPath><g clip-path="url(#pc)">
<circle cx="947.4" cy="488.5" r="4.4" fill="none" stroke="#0a14e0" stroke-width="3.4"/>
<path d="M947.4 494.5V503.3M941.9 498.1H952.9" stroke="#0a14e0" stroke-width="3.2" fill="none"/>
<circle cx="992.8" cy="463.3" r="4.4" fill="none" stroke="#0a14e0" stroke-width="3.4"/>
<path d="M992.8 469.3V478.1M987.3 472.9H998.3" stroke="#0a14e0" stroke-width="3.2" fill="none"/>
<circle cx="1038.3" cy="426.8" r="4.4" fill="none" stroke="#0a14e0" stroke-width="3.4"/>
<path d="M1038.3 432.8V441.6M1032.8 436.4H1043.8" stroke="#0a14e0" stroke-width="3.2" fill="none"/>
<circle cx="1083.7" cy="396.4" r="4.4" fill="none" stroke="#0a14e0" stroke-width="3.4"/>
<path d="M1083.7 402.4V411.2M1078.2 406.0H1089.2" stroke="#0a14e0" stroke-width="3.2" fill="none"/>
<circle cx="1129.1" cy="385.1" r="4.4" fill="none" stroke="#0a14e0" stroke-width="3.4"/>
<path d="M1129.1 391.1V399.9M1123.6 394.7H1134.6" stroke="#0a14e0" stroke-width="3.2" fill="none"/>
<circle cx="1174.6" cy="399.9" r="4.4" fill="none" stroke="#0a14e0" stroke-width="3.4"/>
<path d="M1174.6 405.9V414.7M1169.1 409.5H1180.1" stroke="#0a14e0" stroke-width="3.2" fill="none"/>
<rect x="847.3" y="483.7" width="18.4" height="18.4" fill="#9c6a2c"/>
<rect x="892.8" y="468.9" width="18.4" height="18.4" fill="#9c6a2c"/>
<rect x="938.2" y="430.7" width="18.4" height="18.4" fill="#9c6a2c"/>
<rect x="983.6" y="335.1" width="18.4" height="18.4" fill="#9c6a2c"/>
<rect x="1029.1" y="322.0" width="18.4" height="18.4" fill="#9c6a2c"/>
<rect x="1074.5" y="316.0" width="18.4" height="18.4" fill="#9c6a2c"/>
<rect x="1119.9" y="322.0" width="18.4" height="18.4" fill="#9c6a2c"/>
<rect x="1165.4" y="332.5" width="18.4" height="18.4" fill="#9c6a2c"/>
<polygon points="947.4,475.0 956.6,484.2 947.4,493.4 938.2,484.2" fill="#000000"/>
<polygon points="992.8,426.3 1002.0,435.5 992.8,444.7 983.6,435.5" fill="#000000"/>
<polygon points="1038.3,338.5 1047.5,347.7 1038.3,356.9 1029.1,347.7" fill="#000000"/>
<polygon points="1083.7,273.4 1092.9,282.6 1083.7,291.8 1074.5,282.6" fill="#000000"/>
<polygon points="1129.1,276.9 1138.3,286.1 1129.1,295.2 1119.9,286.1" fill="#000000"/>
<polygon points="1174.6,297.7 1183.8,306.9 1174.6,316.1 1165.4,306.9" fill="#000000"/>
<polygon points="947.4,474.4 955.0,482.0 947.4,489.6 939.8,482.0" fill="#f08018"/>
<polygon points="992.8,423.6 1000.4,431.2 992.8,438.8 985.2,431.2" fill="#f08018"/>
<polygon points="1038.3,332.3 1045.9,339.9 1038.3,347.5 1030.7,339.9" fill="#f08018"/>
<polygon points="1083.7,303.7 1091.3,311.3 1083.7,318.9 1076.1,311.3" fill="#f08018"/>
<polygon points="1129.1,312.3 1136.7,319.9 1129.1,327.5 1121.5,319.9" fill="#f08018"/>
<polygon points="947.4,416.6 955.6,431.9 939.3,431.9" fill="#000a80"/>
<polygon points="992.8,274.9 1001.0,290.2 984.7,290.2" fill="#000a80"/>
<polygon points="1038.3,221.9 1046.4,237.2 1030.1,237.2" fill="#000a80"/>
<polygon points="1083.7,202.8 1091.9,218.1 1075.6,218.1" fill="#000a80"/>
<polygon points="1129.1,201.1 1137.3,216.4 1121.0,216.4" fill="#000a80"/>
<polygon points="902.0,478.8 910.1,463.5 893.8,463.5" fill="#5c0a5c"/>
<polygon points="947.4,374.5 955.6,359.2 939.3,359.2" fill="#5c0a5c"/>
<polygon points="992.8,238.1 1001.0,222.8 984.7,222.8" fill="#5c0a5c"/>
<polygon points="1174.6,237.2 1182.7,221.9 1166.4,221.9" fill="#5c0a5c"/>
<circle cx="856.5" cy="490.3" r="8.6" fill="#c4bc1c"/>
<circle cx="902.0" cy="456.4" r="8.6" fill="#c4bc1c"/>
<circle cx="947.4" cy="343.4" r="8.6" fill="#c4bc1c"/>
<circle cx="992.8" cy="200.9" r="8.6" fill="#c4bc1c"/>
<circle cx="1038.3" cy="212.2" r="8.6" fill="#c4bc1c"/>
<circle cx="1083.7" cy="195.7" r="8.6" fill="#c4bc1c"/>
<circle cx="1129.1" cy="220.0" r="8.6" fill="#c4bc1c"/>
<circle cx="1174.6" cy="221.7" r="8.6" fill="#c4bc1c"/>
<polygon points="902.0,474.8 910.1,490.1 893.8,490.1" fill="#10c010"/>
<polygon points="947.4,432.2 955.6,447.5 939.3,447.5" fill="#10c010"/>
<polygon points="992.8,290.6 1001.0,305.9 984.7,305.9" fill="#10c010"/>
<polygon points="1038.3,208.9 1046.4,224.2 1030.1,224.2" fill="#10c010"/>
<polygon points="1083.7,196.7 1091.9,212.0 1075.6,212.0" fill="#10c010"/>
<polygon points="1129.1,224.5 1137.3,239.8 1121.0,239.8" fill="#10c010"/>
<polygon points="1174.6,234.9 1182.7,250.2 1166.4,250.2" fill="#10c010"/>
<polygon points="856.5,502.3 864.7,487.0 848.4,487.0" fill="#a224ec"/>
<polygon points="902.0,480.5 910.1,465.2 893.8,465.2" fill="#a224ec"/>
<polygon points="947.4,413.6 955.6,398.3 939.3,398.3" fill="#a224ec"/>
<polygon points="992.8,252.0 1001.0,236.7 984.7,236.7" fill="#a224ec"/>
<polygon points="1038.3,193.8 1046.4,178.5 1030.1,178.5" fill="#a224ec"/>
<polygon points="1083.7,177.3 1091.9,162.0 1075.6,162.0" fill="#a224ec"/>
<polygon points="1129.1,193.8 1137.3,178.5 1121.0,178.5" fill="#a224ec"/>
<polygon points="1174.6,205.1 1182.7,189.8 1166.4,189.8" fill="#a224ec"/>
<rect x="848.5" y="491.0" width="16.0" height="16.0" fill="#0a14f0"/>
<rect x="894.0" y="484.9" width="16.0" height="16.0" fill="#0a14f0"/>
<rect x="939.4" y="460.5" width="16.0" height="16.0" fill="#0a14f0"/>
<rect x="984.8" y="401.9" width="16.0" height="16.0" fill="#0a14f0"/>
<rect x="1030.3" y="377.1" width="16.0" height="16.0" fill="#0a14f0"/>
<rect x="1075.7" y="373.6" width="16.0" height="16.0" fill="#0a14f0"/>
<rect x="1121.1" y="371.9" width="16.0" height="16.0" fill="#0a14f0"/>
<rect x="1166.6" y="387.1" width="16.0" height="16.0" fill="#0a14f0"/>
<circle cx="856.5" cy="496.8" r="7.7" fill="#f01010"/>
<circle cx="902.0" cy="495.5" r="7.7" fill="#f01010"/>
<circle cx="947.4" cy="476.4" r="7.7" fill="#f01010"/>
<circle cx="992.8" cy="411.2" r="7.7" fill="#f01010"/>
<circle cx="1038.3" cy="351.2" r="7.7" fill="#f01010"/>
<circle cx="1083.7" cy="331.2" r="7.7" fill="#f01010"/>
<circle cx="1129.1" cy="338.2" r="7.7" fill="#f01010"/>
<circle cx="1174.6" cy="328.6" r="7.7" fill="#f01010"/>
</g>
<rect x="990.3" y="494.5" width="5" height="10" rx="1.5" fill="#f01020"/>
<rect x="1035.8" y="494.5" width="5" height="10" rx="1.5" fill="#f01020"/>
<rect x="1126.6" y="494.5" width="5" height="10" rx="1.5" fill="#f01020"/>
<rect x="1172.1" y="494.5" width="5" height="10" rx="1.5" fill="#f01020"/>
<text x="746.3" y="512.3" font-size="25.0" font-weight="bold" fill="#0a0a14" text-anchor="end" >0</text>
<text x="746.3" y="425.4" font-size="25.0" font-weight="bold" fill="#0a0a14" text-anchor="end" >1</text>
<text x="746.3" y="338.5" font-size="25.0" font-weight="bold" fill="#0a0a14" text-anchor="end" >2</text>
<text x="746.3" y="251.6" font-size="25.0" font-weight="bold" fill="#0a0a14" text-anchor="end" >3</text>
<text x="746.3" y="164.7" font-size="25.0" font-weight="bold" fill="#0a0a14" text-anchor="end" >4</text>
<text x="764.5" y="547.0" font-size="25.0" font-weight="bold" fill="#0a0a14" text-anchor="middle" >0.0001</text>
<text x="894.5" y="547.0" font-size="25.0" font-weight="bold" fill="#0a0a14" text-anchor="middle" >0.01</text>
<text x="1024.5" y="547.0" font-size="25.0" font-weight="bold" fill="#0a0a14" text-anchor="middle" >1</text>
<text x="1154.5" y="547.0" font-size="25.0" font-weight="bold" fill="#0a0a14" text-anchor="middle" >100</text>
<text x="1284.5" y="547.0" font-size="25.0" font-weight="bold" fill="#0a0a14" text-anchor="middle" >10000</text>
<text transform="translate(716.6,396.5) rotate(-90) scale(1,1.1)" font-size="29" font-weight="bold" fill="#0a0a0a" textLength="136.5" lengthAdjust="spacingAndGlyphs">OD 450nm</text>
<text x="955.2" y="591.8" font-size="30.0" font-weight="bold" fill="#0a0a0a" text-anchor="start" textLength="141.0" lengthAdjust="spacingAndGlyphs" >Conc.(nM)</text>
</svg></body></html>
